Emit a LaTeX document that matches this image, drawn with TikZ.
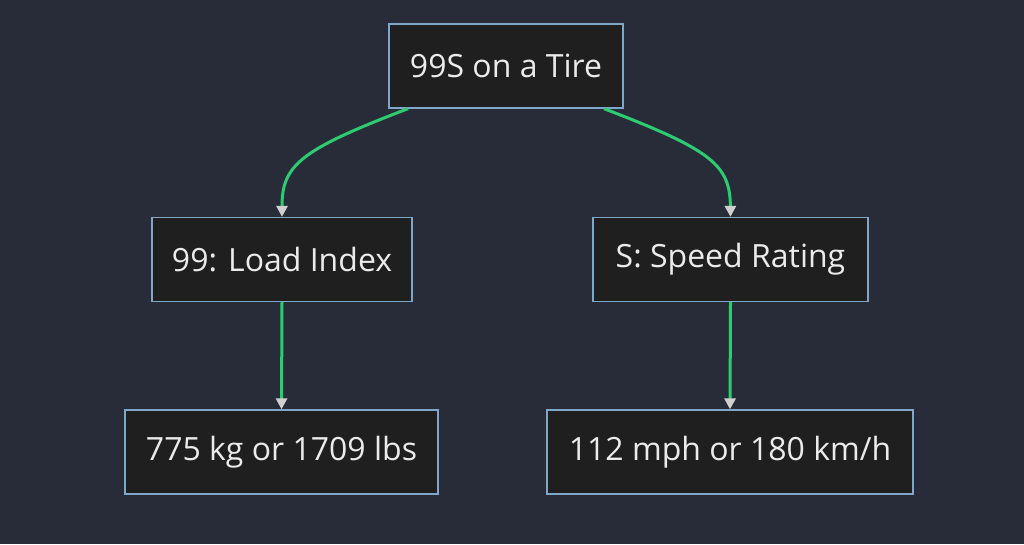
\documentclass[tikz,border=0pt]{standalone}
\usepackage{fontspec}
\setmainfont{Open Sans}
\usetikzlibrary{arrows.meta,calc}
\definecolor{bg}{HTML}{282C38}
\definecolor{boxfill}{HTML}{1F1F1F}
\definecolor{boxline}{HTML}{7FA7C9}
\definecolor{edge}{HTML}{2ECC71}
\definecolor{tip}{HTML}{D0D0D0}
\begin{document}
\begin{tikzpicture}[x=1pt,y=-1pt,
  box/.style={draw=boxline,fill=boxfill,line width=1.3pt,text=white!92!black,
    minimum height=84pt,inner sep=0pt,font=\fontsize{32}{34}\selectfont},
  link/.style={draw=edge,line width=3pt,-{Triangle[length=11pt,width=11pt,color=tip]}}]
\fill[bg] (0,0) rectangle (1024,544);
\useasboundingbox (0,0) rectangle (1024,544);
\node[box,minimum width=234pt] (a) at (506,66) {99S on a Tire};
\node[box,minimum width=260pt] (b) at (282,259.5) {99: Load Index};
\node[box,minimum width=275pt] (c) at (730.5,259.5) {S: Speed Rating};
\node[box,minimum width=313pt] (d) at (281.5,452) {775 kg or 1709 lbs};
\node[box,minimum width=366pt] (e) at (730,452) {112 mph or 180 km/h};
\draw[link] ($(a.south)+(-98,0)$) .. controls (300,150) and (282,165) .. (b.north);
\draw[link] ($(a.south)+(98,0)$) .. controls (712,150) and (730,165) .. (c.north);
\draw[link] (b.south) -- (d.north);
\draw[link] (c.south) -- (e.north);
\end{tikzpicture}
\end{document}
